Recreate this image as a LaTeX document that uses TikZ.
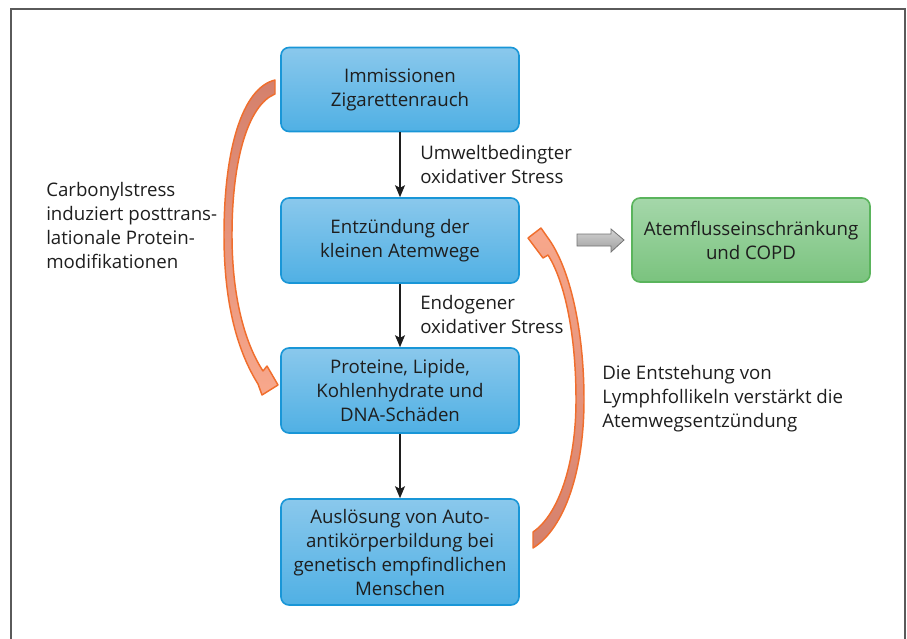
\documentclass[tikz,border=0pt]{standalone}
\usepackage{fontspec}
\setmainfont{Open Sans}
\usetikzlibrary{arrows.meta}
\definecolor{txt}{RGB}{30,30,30}
\definecolor{boxtop}{RGB}{138,200,236}
\definecolor{boxbot}{RGB}{80,176,228}
\definecolor{boxline}{RGB}{25,150,215}
\definecolor{grtop}{RGB}{165,215,170}
\definecolor{grbot}{RGB}{122,195,126}
\definecolor{grline}{RGB}{90,180,92}
\definecolor{orline}{RGB}{240,110,45}
\definecolor{ordark}{RGB}{212,128,108}
\definecolor{orlight}{RGB}{248,168,140}
\definecolor{frame}{RGB}{90,90,90}
\tikzset{
  bluebox/.style={draw=boxline, line width=1.2pt, rounded corners=6pt,
    top color=boxtop, bottom color=boxbot, minimum width=178.5pt,
    align=center, text=txt, font=\fontsize{14}{18}\selectfont, inner sep=2pt},
  greenbox/.style={draw=grline, line width=1.2pt, rounded corners=6pt,
    top color=grtop, bottom color=grbot, minimum width=178.5pt, minimum height=63pt,
    align=center, text=txt, font=\fontsize{14}{18}\selectfont, inner sep=2pt},
  lbl/.style={align=left, text=txt, font=\fontsize{14}{18}\selectfont, inner sep=0pt, anchor=west},
  flow/.style={draw=txt, line width=1.1pt, -{Stealth[length=9pt,width=7.5pt,inset=2pt]}},
  curvearrow/.style={draw=orline, line width=1.1pt, line join=round}
}
\begin{document}
\begin{tikzpicture}[x=0.75pt,y=-0.75pt]
\useasboundingbox (0,0) rectangle (907,639);
\draw[frame, line width=1.6pt] (11,639) -- (11,9) -- (905,9) -- (905,639);

\node[bluebox, minimum height=63pt] (b1) at (400,89.5) {Immissionen\\Zigarettenrauch};
\node[bluebox, minimum height=63.75pt] (b2) at (400,240.5) {Entzündung der\\kleinen Atemwege};
\node[bluebox, minimum height=63.75pt] (b3) at (400,390.5) {Proteine, Lipide,\\Kohlenhydrate und\\DNA-Schäden};
\node[bluebox, minimum height=79.5pt] (b4) at (400,552) {Auslösung von Auto-\\antikörperbildung bei\\genetisch empfindlichen\\Menschen};
\node[greenbox] (g) at (751,240) {Atemflusseinschränkung\\und COPD};

\draw[flow] (b1) -- (b2);
\draw[flow] (b2) -- (b3);
\draw[flow] (b3) -- (b4);

\node[lbl] (l1) at (420,164) {Umweltbedingter\\oxidativer Stress};
\node[lbl] (l2) at (420,314) {Endogener\\oxidativer Stress};
\node[lbl] (l3) at (46,225) {Carbonylstress\\induziert posttrans-\\lationale Protein-\\modifikationen};
\node[lbl] (l4) at (602,399) {Die Entstehung von\\Lymphfollikeln verstärkt die\\Atemwegsentzündung};

% gray block arrow
\shade[top color=gray!35, bottom color=gray!75, draw=gray!90!black, line width=0.6pt]
  (577,234) -- (611,234) -- (611,229) -- (624,240) -- (611,252) -- (611,246) -- (577,246) -- cycle;

% left curved arrow
\shade[curvearrow, top color=ordark, bottom color=orlight]
  (275,80) .. controls (242,88) and (224,150) .. (224,235)
  .. controls (224,305) and (238,352) .. (258,384)
  -- (262,395) -- (278,385) -- (267,366) -- (263,371)
  .. controls (246,345) and (232,300) .. (232,235)
  .. controls (232,160) and (248,105) .. (275,94) -- cycle;

% right curved arrow
\shade[curvearrow, top color=orlight, bottom color=ordark]
  (528,238) -- (541,228) -- (548,238)
  .. controls (570,268) and (584,330) .. (584,400)
  .. controls (584,470) and (565,528) .. (533,548)
  -- (533,532)
  .. controls (558,515) and (576,465) .. (576,400)
  .. controls (576,335) and (565,282) .. (548,255)
  -- (543,258) -- cycle;
\end{tikzpicture}
\end{document}
